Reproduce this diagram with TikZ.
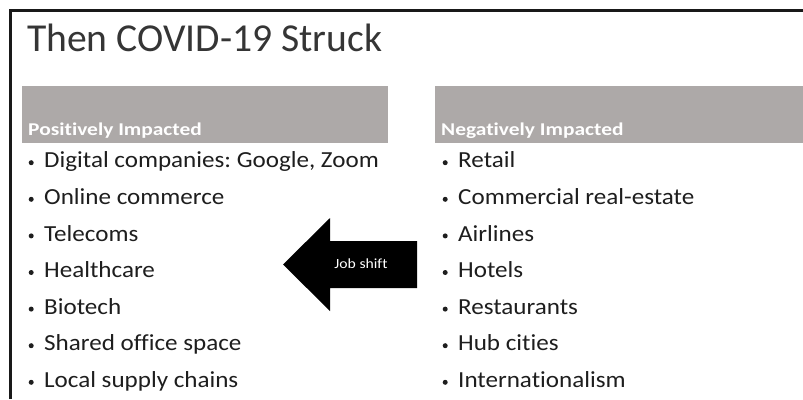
\documentclass[tikz,border=0pt]{standalone}
\usepackage{fontspec}
\setmainfont{Carlito}[Ligatures=NoCommon]
\newfontfamily\itemfont{Carlito}[FakeStretch=1.09,Ligatures=NoCommon]
\newfontfamily\hdrfont{Carlito}[FakeStretch=1.19,Ligatures=NoCommon]
\newfontfamily\jobfont{Carlito}[FakeStretch=1.12,Ligatures=NoCommon]
\frenchspacing
\begin{document}
\begin{tikzpicture}[x=1pt,y=-1pt,
  hdrtxt/.style={anchor=base west,inner sep=0pt,text=white,font=\hdrfont\fontsize{18}{20}\selectfont\bfseries},
  item/.style={anchor=base west,inner sep=0pt,text=txtcol,font=\itemfont\fontsize{23}{26}\selectfont},
]
\definecolor{hdrgray}{HTML}{ADA9A8}
\definecolor{txtcol}{HTML}{1E1E1E}
\newcommand{\bul}{\tikz[baseline]\fill (0,5.2pt) circle (2.5pt);}
\useasboundingbox (0,0) rectangle (803,399);
\fill[white] (0,0) rectangle (803,399);
% frame
\draw[line width=2.6pt,color=black!90] (10.5,399) -- (10.5,10.5) -- (803,10.5);
% title
\node[anchor=base west,inner sep=0pt,text=txtcol!90,font=\fontsize{39.6}{44}\selectfont] (title) at (27,51) {Then COVID-19 Struck};
% headers
\fill[hdrgray] (22,86) rectangle (388,143);
\fill[hdrgray] (435,86) rectangle (803,143);
\node[hdrtxt] (hpos) at (28,135) {Positively Impacted};
\node[hdrtxt] (hneg) at (441,135) {Negatively Impacted};
% items
\foreach \t [count=\i] in {{Digital companies: Google, Zoom},Online commerce,Telecoms,Healthcare,Biotech,Shared office space,Local supply chains}{
  \node[item] (l\i) at (28.5,{131.3+36.6*\i}) {\bul\hspace{10.5pt}\t};
}
\foreach \t [count=\i] in {Retail,Commercial real-estate,Airlines,Hotels,Restaurants,Hub cities,Internationalism}{
  \node[item] (r\i) at (442.5,{131.3+36.6*\i}) {\bul\hspace{10.5pt}\t};
}
% arrow
\fill[black] (283,264.5) -- (330,218) -- (330,241) -- (417,241) -- (417,288) -- (330,288) -- (330,311) -- cycle;
\node[text=white,font=\jobfont\fontsize{14}{16}\selectfont,inner sep=0pt] (job) at (361,264) {Job shift};
\end{tikzpicture}
\end{document}
